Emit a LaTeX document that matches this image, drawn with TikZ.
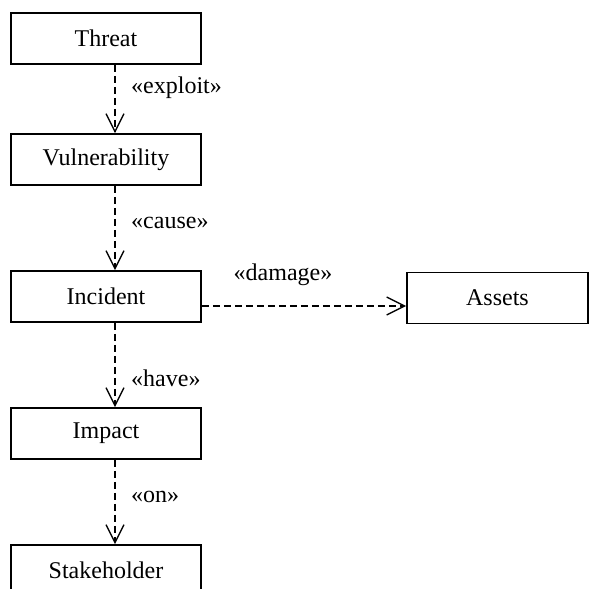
\documentclass[tikz,border=0pt]{standalone}
\usepackage{fontspec}
\setmainfont{Liberation Serif}
\usetikzlibrary{arrows.meta}
\begin{document}
\begin{tikzpicture}[x=1pt,y=-1pt,
 box/.style={draw,line width=1.6pt,minimum width=190pt,minimum height=51pt,inner sep=0pt,font=\fontsize{24}{28}\selectfont},
 dep/.style={line width=1.4pt,dash pattern=on 7pt off 4pt,-{Straight Barb[length=18pt,width=18pt,line width=1.4pt]}},
 lbl/.style={anchor=west,inner sep=0pt,font=\fontsize{24}{28}\selectfont}]
\useasboundingbox (0,0) rectangle (590,589);
\clip (0,0) rectangle (590,589);
\node[box] (threat) at (106,38.5) {Threat};
\node[box] (vuln) at (106,159.5) {Vulnerability};
\node[box] (incident) at (106,296.5) {Incident};
\node[box,minimum width=181pt] (assets) at (497.5,298) {Assets};
\node[box] (impact) at (106,433.5) {Impact};
\node[box] (stake) at (106,570.5) {Stakeholder};
\coordinate (vx) at (115,0);
\coordinate (hy) at (0,306);
\draw[dep] (threat.south -| vx) -- (vuln.north -| vx);
\draw[dep] (vuln.south -| vx) -- (incident.north -| vx);
\draw[dep] (incident.south -| vx) -- (impact.north -| vx);
\draw[dep] (impact.south -| vx) -- (stake.north -| vx);
\draw[dep] (incident.east |- hy) -- (assets.west |- hy);
\node[lbl] (l1) at (131,88) {«exploit»};
\node[lbl] (l2) at (131,223) {«cause»};
\node[lbl] (l3) at (131,378) {«have»};
\node[lbl] (l4) at (131,497) {«on»};
\node[lbl,anchor=center] (l5) at (283,275) {«damage»};
\end{tikzpicture}
\end{document}
